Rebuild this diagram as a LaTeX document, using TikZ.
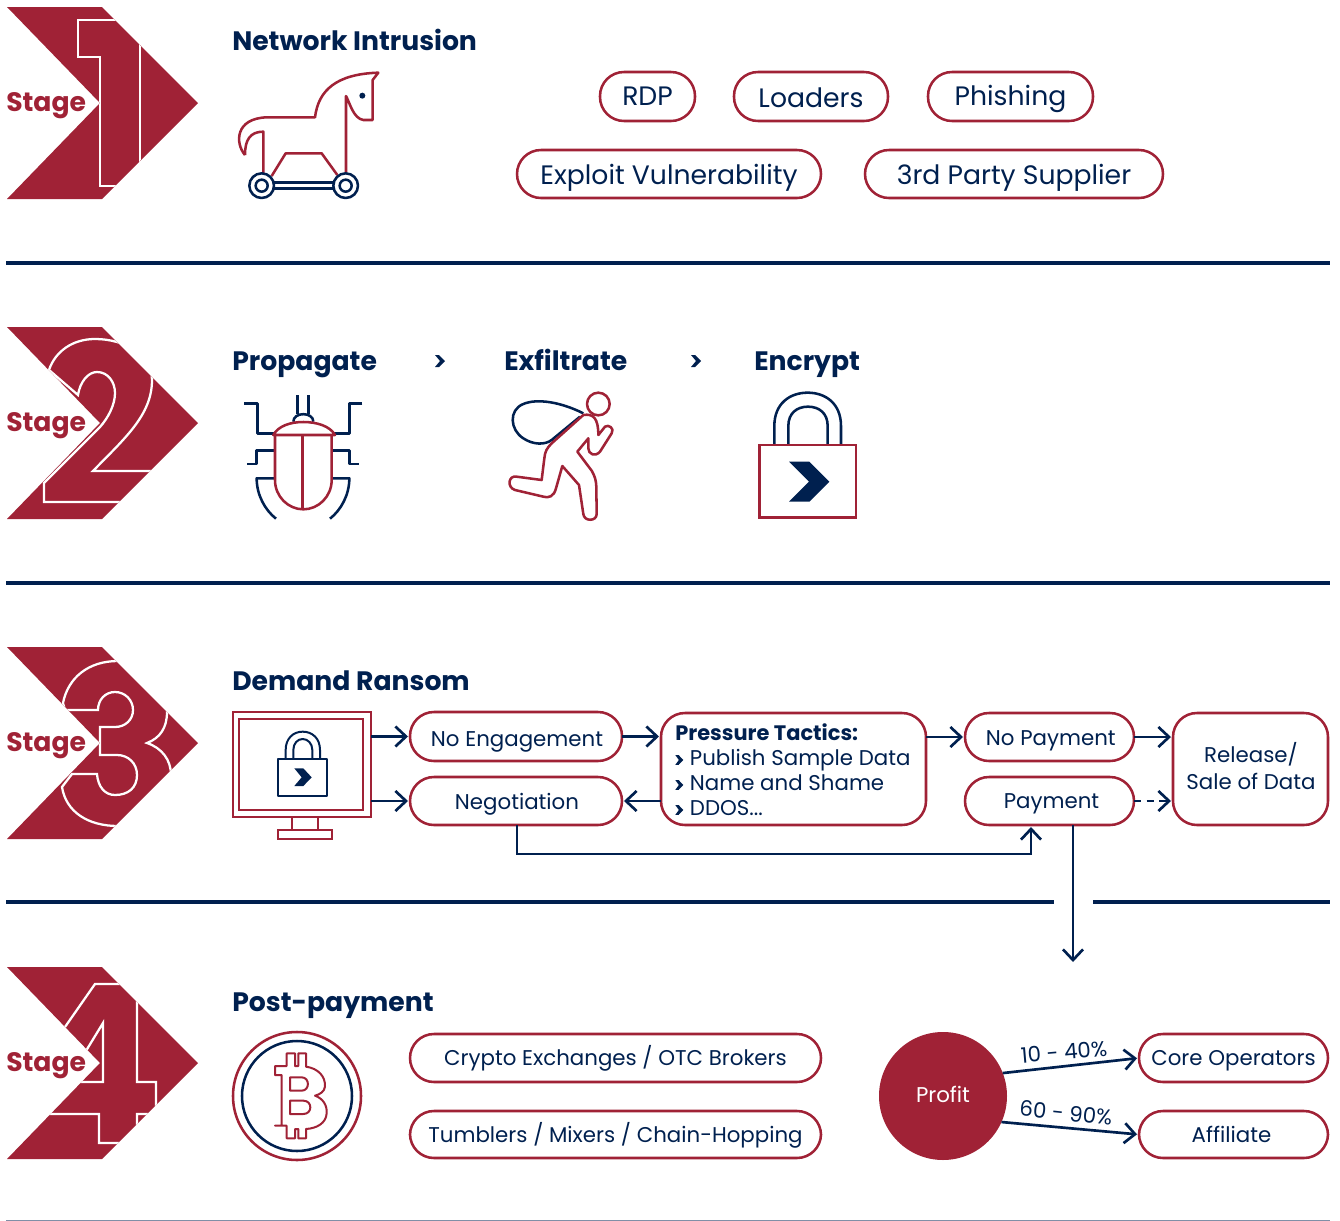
\documentclass[tikz,border=0pt]{standalone}
\usepackage{fontspec}
\setmainfont{Poppins}
\usetikzlibrary{arrows.meta,calc}
\definecolor{crim}{HTML}{A02236}
\definecolor{navy}{HTML}{00204F}
\tikzset{
 pill/.style={draw=crim,line width=1.9pt,rounded corners=18pt,inner sep=0pt,outer sep=0pt,text=navy,text depth=2pt,align=center},
 bigtxt/.style={font=\fontsize{20}{24}\selectfont,text height=17pt},
 midtxt/.style={font=\fontsize{16}{20}\selectfont,text height=14pt},
 title/.style={anchor=base west,inner sep=0pt,text=navy,font=\fontsize{20}{24}\selectfont\bfseries},
 stagetxt/.style={anchor=base west,inner sep=0pt,text=crim,font=\fontsize{20}{24}\selectfont\bfseries},
 conn/.style={draw=navy,line width=2pt,shorten >=1.5pt,-{Straight Barb[length=8pt,width=15pt]}},
 sep/.style={navy,line width=2.4pt},
 iconr/.style={draw=crim,line width=1.9pt,line join=round},
 iconn/.style={draw=navy,line width=1.9pt,line join=round},
 digit/.style={draw=white,line width=1.7pt,line join=miter},
 zoomed/.style={x=.25pt,y=-.25pt},
}
\newcommand\chevpath{(7,7) -- (102,7) -- (198,103) -- (102,199) -- (7,199) -- (100,103) -- cycle}
\newcommand\chevmark{\tikz[baseline=-.5ex,x=1pt,y=1pt,sharp corners]\fill[navy] (0,3.7) -- (2.5,3.7) -- (6,0) -- (2.5,-3.7) -- (0,-3.7) -- (2.7,0) -- cycle;}
% name, x0, y0, x1, y1, options, text
\newcommand\boxn[7]{%
 \pgfmathsetmacro\bxw{(#4-#2)*.75}%
 \pgfmathsetmacro\bxh{(#5-#3)*.75}%
 \pgfmathsetmacro\bxx{(#2+#4)/2}%
 \pgfmathsetmacro\bxy{(#3+#5)/2}%
 \node[pill,minimum width=\bxw pt,minimum height=\bxh pt,#6] (#1) at (\bxx,\bxy) {#7};}
\begin{document}
\begin{tikzpicture}[x=.75pt,y=-.75pt]
\useasboundingbox (0,0) rectangle (1340,1221);
% separators
\draw[sep] (6,263) -- (1330,263);
\draw[sep] (6,583) -- (1330,583);
\draw[sep] (6,902) -- (1054,902);
\draw[sep] (1093,902) -- (1330,902);
\draw[draw=navy!50,line width=.9pt] (6,1220.3) -- (1330,1220.3);
% stage 1
\fill[crim] \chevpath;
\begin{scope}\clip \chevpath;
\draw[digit] (78,20) -- (140,20) -- (140,186) -- (100,186) -- (100,57) -- (78,57) -- cycle;
\end{scope}
\node[stagetxt] (s1) at (6,111) {Stage};
% stage 2
\begin{scope}[shift={(0,320)}]
\fill[crim] \chevpath;
\begin{scope}\clip \chevpath;
\draw[digit] (44,163) -- (44,182) -- (170,182) -- (170,151) -- (93,151) .. controls (125,118) and (152,95) .. (152,60) .. controls (152,35) and (125,19) .. (95,19) .. controls (72,19) and (55,32) .. (49,50) -- (78,75) .. controls (80,62) and (88,52) .. (97,52) .. controls (108,52) and (115,62) .. (115,73) .. controls (115,85) and (108,98) .. (100,107) -- cycle;
\end{scope}
\node[stagetxt] (s2) at (6,111) {Stage};
\end{scope}
% stage 3
\begin{scope}[shift={(0,640)}]
\fill[crim] \chevpath;
\begin{scope}\clip \chevpath;
\draw[digit] (63,63) .. controls (68,38) and (88,21) .. (118,21) .. controls (145,21) and (167,45) .. (167,72) .. controls (167,88) and (160,98) .. (147,103) .. controls (162,108) and (171,120) .. (171,135) .. controls (171,165) and (148,186) .. (118,186) .. controls (88,186) and (66,172) .. (62,147) -- (72,134) -- (97,134) .. controls (98,147) and (105,155) .. (115,155) .. controls (128,155) and (137,148) .. (137,135) .. controls (137,123) and (128,115) .. (117,115) -- (100,115) -- (100,87) -- (115,87) .. controls (125,87) and (133,80) .. (133,70) .. controls (133,60) and (125,52) .. (115,52) .. controls (105,52) and (98,60) .. (98,70) -- (65,70) -- cycle;
\end{scope}
\node[stagetxt] (s3) at (6,111) {Stage};
\end{scope}
% stage 4
\begin{scope}[shift={(0,960)}]
\fill[crim] \chevpath;
\begin{scope}\clip \chevpath;
\draw[digit] (65,67) -- (95,24) -- (137,24) -- (137,122) -- (156,122) -- (156,154) -- (137,154) -- (137,183) -- (99,183) -- (99,154) -- (40,154) -- (40,100) -- cycle;
\draw[digit] (103,63) -- (103,122) -- (67,122) -- cycle;
\end{scope}
\node[stagetxt] (s4) at (6,111) {Stage};
\end{scope}
% titles
\node[title] (t1) at (232,50) {Network Intrusion};
\node[title] (t2) at (232,370) {Propagate};
\node[title] (t3) at (504,370) {Exfiltrate};
\node[title] (t4) at (754,370) {Encrypt};
\node[title] (t5) at (232,690) {Demand Ransom};
\node[title] (t6) at (232,1011) {Post-payment};
\fill[navy] (435,355) -- (439,355) -- (445,361) -- (439,367) -- (435,367) -- (440,361) -- cycle;
\fill[navy] (691,355) -- (695,355) -- (701,361) -- (695,367) -- (691,367) -- (696,361) -- cycle;
% horse
\begin{scope}[zoomed]
\draw[iconr] (735,465) .. controls (705,430) and (705,355) .. (800,352) -- (945,352) .. controls (955,270) and (1010,222) .. (1135,218) -- (1118,240) -- (1118,360) -- (1090,360) .. controls (1060,355) and (1050,310) .. (1038,288) -- (1038,518);
\draw[iconr] (735,465) .. controls (735,420) and (750,395) .. (790,395) -- (790,520);
\draw[iconr] (815,528) -- (857,460) -- (965,460) -- (1012,525);
\fill[navy] (1087,287) circle[radius=9];
\draw[iconn] (785,557) circle[radius=37];
\draw[iconn] (785,557) circle[radius=18];
\draw[iconn] (1037,557) circle[radius=37];
\draw[iconn] (1037,557) circle[radius=18];
\draw[iconn] (822,548) -- (1000,548);
\draw[iconn] (822,566) -- (1000,566);
\end{scope}
% bug
\begin{scope}[shift={(0,320)},zoomed]
\draw[iconn] (893,225) -- (893,282);
\draw[iconn] (925,225) -- (925,282);
\draw[iconn] (880,305) .. controls (880,275) and (940,275) .. (940,305);
\draw[iconn] (732,250) -- (772,250) -- (772,340) -- (825,340);
\draw[iconn] (1087,250) -- (1048,250) -- (1048,340) -- (1000,340);
\draw[iconn] (742,432) -- (770,432) -- (770,392) -- (825,392);
\draw[iconn] (1076,432) -- (1048,432) -- (1048,392) -- (1000,392);
\draw[iconn] (825,475) -- (770,475) .. controls (770,525) and (795,570) .. (828,596);
\draw[iconn] (995,475) -- (1048,475) .. controls (1048,525) and (1023,570) .. (990,596);
\draw[iconr] (825,345) -- (825,480) .. controls (825,530) and (865,568) .. (910,568) .. controls (955,568) and (995,530) .. (995,480) -- (995,345);
\draw[iconr] (820,345) .. controls (835,318) and (870,306) .. (910,306) .. controls (950,306) and (990,318) .. (1005,345) -- cycle;
\draw[iconr] (908,345) -- (908,568);
\end{scope}
% thief
\begin{scope}[shift={(480,380)},zoomed]
\draw[iconn] (310,100) .. controls (240,65) and (170,55) .. (130,72) .. controls (85,90) and (90,150) .. (130,175) .. controls (160,195) and (195,195) .. (215,180) -- (300,110);
\draw[iconr] (355,72) circle[radius=34];
\draw[iconr] (310,105) .. controls (340,100) and (355,115) .. (355,165) -- (375,140) .. controls (385,132) and (405,145) .. (395,160) -- (360,215) .. controls (345,232) and (325,222) .. (325,205) -- (325,175) -- (292,215) -- (335,272) .. controls (345,290) and (348,300) .. (349,320) -- (350,402) .. controls (350,425) and (312,425) .. (310,402) -- (297,315) -- (247,258) -- (228,325) .. controls (222,350) and (205,355) .. (190,350) -- (105,330) .. controls (80,322) and (85,285) .. (110,290) -- (185,300) -- (193,235) .. controls (195,215) and (200,205) .. (215,190) -- cycle;
% lock
\draw[iconn] (883,195) -- (883,138) .. controls (883,70) and (930,38) .. (983,38) .. controls (1036,38) and (1083,70) .. (1083,138) -- (1083,195);
\draw[iconn] (925,195) -- (925,138) .. controls (925,100) and (950,80) .. (984,80) .. controls (1018,80) and (1043,100) .. (1043,138) -- (1043,195);
\draw[iconr,line join=miter] (838,195) rectangle (1128,413);
\fill[navy] (927,245) -- (988,245) -- (1048,305) -- (988,365) -- (927,365) -- (987,305) -- cycle;
\end{scope}
% bitcoin
\draw[crim,line width=1.9pt] (297,1096) circle[radius=64];
\draw[navy,line width=1.9pt] (297,1096) circle[radius=55];
\begin{scope}[shift={(0,960)},zoomed]
\draw[iconr,line width=1.5pt] (825,318) -- (860,318) -- (860,280) -- (885,280) -- (885,318) -- (895,318) -- (895,280) -- (918,280) -- (918,320) .. controls (955,325) and (977,350) .. (975,380) .. controls (973,395) and (960,403) .. (945,407) .. controls (968,415) and (982,435) .. (980,460) .. controls (978,490) and (950,505) .. (918,507) -- (918,535) -- (895,535) -- (895,507) -- (885,507) -- (885,535) -- (860,535) -- (860,497) -- (825,497) -- (845,497) -- (845,345) -- (825,345) -- cycle;
\draw[iconr,line width=1.5pt] (870,352) -- (905,352) .. controls (930,352) and (930,392) .. (905,392) -- (870,392) -- cycle;
\draw[iconr,line width=1.5pt] (870,422) -- (910,422) .. controls (938,422) and (938,462) .. (910,462) -- (870,462) -- cycle;
\end{scope}
% stage 1 pills
\boxn{rdp}{600}{72}{695}{121}{bigtxt,text height=15.5pt}{RDP}
\boxn{loaders}{734}{72}{888}{121}{bigtxt,text height=18.5pt}{Loaders}
\boxn{phish}{928}{72}{1093}{121}{bigtxt,text height=15.5pt}{Phishing}
\boxn{exploit}{517}{150}{821}{198}{bigtxt}{Exploit Vulnerability}
\boxn{third}{865}{150}{1163}{198}{bigtxt}{3rd Party Supplier}
% monitor
\boxn{monitor}{233}{712}{371}{817}{sharp corners}{}
\draw[iconr,line join=miter] (239,719) rectangle (363,810);
\draw[iconr] (292,817) -- (292,830);
\draw[iconr] (318,817) -- (318,830);
\draw[iconr,line join=miter] (278,830) rectangle (332,839);
\draw[iconn] (278,759) rectangle (327,796);
\begin{scope}[shift={(0,640)},zoomed]
\draw[iconn,line width=1.5pt] (857,357) -- (857,330) .. controls (857,295) and (880,275) .. (908,275) .. controls (937,275) and (960,295) .. (960,330) -- (960,357);
\draw[iconn,line width=1.5pt] (880,357) -- (880,330) .. controls (880,310) and (893,297) .. (908,297) .. controls (923,297) and (937,310) .. (937,330) -- (937,357);
\fill[navy] (883,385) -- (910,385) -- (935,412) -- (910,438) -- (883,438) -- (905,412) -- cycle;
\end{scope}
% stage 3 boxes
\boxn{noeng}{410}{712}{622}{761}{midtxt,text height=17pt}{\hspace*{1.5pt}No Engagement}
\boxn{nego}{410}{777}{622}{825}{midtxt}{\hspace*{1.5pt}Negotiation}
\boxn{press}{661}{713}{926}{825}{}{}
\node[inner sep=0pt,text=navy,anchor=west,align=left,font=\fontsize{16}{18.75}\selectfont] (presstxt) at (675,770) {{\fontsize{15.7}{18.75}\selectfont\bfseries Pressure Tactics:}\\\chevmark\hspace{5pt}Publish Sample Data\\\chevmark\hspace{5pt}Name and Shame\\\chevmark\hspace{5pt}DDOS...};
\boxn{nopay}{965}{713}{1134}{761}{midtxt}{\hspace*{2pt}No Payment}
\boxn{pay}{965}{777}{1134}{825}{midtxt,text height=12.5pt}{\hspace*{3pt}Payment}
\boxn{release}{1173}{713}{1328}{825}{}{}
\node[inner sep=0pt,text=navy,align=center,midtxt,text height=] (reltxt) at (1251,766) {Release/\\Sale of Data};
% stage 4 boxes
\boxn{crypto}{410}{1034}{821}{1082}{midtxt,text height=12.5pt}{Crypto Exchanges / OTC Brokers}
\boxn{tumbler}{410}{1111}{821}{1158}{midtxt}{Tumblers / Mixers / Chain-Hopping}
\boxn{core}{1139}{1034}{1328}{1082}{midtxt,text height=12.5pt}{Core Operators}
\boxn{aff}{1139}{1111}{1328}{1158}{midtxt}{Affiliate\hspace*{3pt}}
\node[circle,fill=crim,minimum size=96pt,inner sep=0pt,outer sep=0pt,text=white,midtxt,text height=11pt,text depth=2pt] (profit) at (943,1096) {Profit};
% connectors
\coordinate (mon1) at (noeng.west -| monitor.east);
\coordinate (mon2) at (nego.west -| monitor.east);
\draw[conn] (mon1) -- (noeng.west);
\draw[conn] (mon2) -- (nego.west);
\draw[conn] (noeng.east) -- (noeng.east -| press.west);
\draw[conn] (nego.east -| press.west) -- (nego.east);
\draw[conn] (nopay.west -| press.east) -- (nopay.west);
\draw[conn] (nopay.east) -- (nopay.east -| release.west);
\draw[conn,dash pattern=on 5.6pt off 3.8pt] (pay.east) -- (pay.east -| release.west);
\coordinate (cor) at (517,854);
\coordinate (payin) at (1031,825);
\draw[conn] (nego.south -| cor) -- (cor) -- (cor -| payin) -- (payin);
\coordinate (down) at (1073,964);
\draw[conn] (pay.south -| down) -- (down);
\draw[conn] (profit.21) -- (core.west);
\draw[conn] (profit.-24) -- (aff.west);
\node[text=navy,inner sep=0pt,rotate=5,midtxt,text height=,text depth=] (l1) at (1064,1052) {10 - 40\%};
\node[text=navy,inner sep=0pt,rotate=-6,midtxt,text height=,text depth=] (l2) at (1066,1113) {60 - 90\%};
\end{tikzpicture}
\end{document}
